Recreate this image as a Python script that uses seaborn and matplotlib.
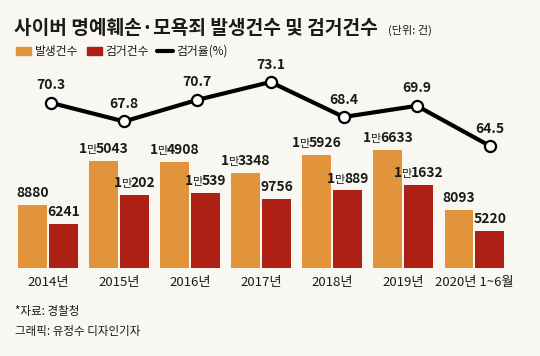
import pandas as pd
import numpy as np
import matplotlib
matplotlib.use("Agg")
import matplotlib.pyplot as plt
import seaborn as sns
from matplotlib.patches import Patch
from matplotlib.lines import Line2D
from matplotlib.offsetbox import TextArea, HPacker, AnnotationBbox

years = ["2014년", "2015년", "2016년", "2017년", "2018년", "2019년", "2020년 1~6월"]
occurred = [8880, 15043, 14908, 13348, 15926, 16633, 8093]
arrested = [6241, 10202, 10539, 9756, 10889, 11632, 5220]
arrest_rate = [70.3, 67.8, 70.7, 73.1, 68.4, 69.9, 64.5]

BG = "#f8f7f2"
ORANGE = "#e1943a"
RED = "#ae1f16"

sns.set_style("white")
plt.rcParams['font.family'] = ['Noto Sans CJK KR', 'DejaVu Sans']

df = pd.DataFrame({"year": years * 2,
                   "count": occurred + arrested,
                   "kind": ["발생건수"] * 7 + ["검거건수"] * 7})

fig = plt.figure(figsize=(5.4, 3.56), dpi=100, facecolor=BG)
W, H = 540, 356

# bars
ax = fig.add_axes([12.5 / W, 1 - 268 / H, 497.5 / W, 208 / H])
ax.set_facecolor("none")
sns.barplot(data=df, x="year", y="count", hue="kind", palette=[ORANGE, RED],
            width=0.87, gap=0.065, saturation=1, edgecolor="none",
            legend=False, ax=ax)
ax.set_xlim(-0.5, 6.5)
ax.set_ylim(0, 29200)
ax.set_xlabel("")
ax.set_ylabel("")
ax.set_yticks([])
ax.tick_params(axis="x", length=0, pad=6, labelsize=9.5, labelcolor="#1a1a1a")
for s in ax.spines.values():
    s.set_visible(False)

big = dict(fontsize=10, fontweight="bold", color="#1a1a1a")
small = dict(fontsize=8, color="#1a1a1a")
for cont, vals in zip(ax.containers, [occurred, arrested]):
    for bar, v in zip(cont, vals):
        if v >= 10000:
            parts = [TextArea(str(v // 10000), textprops=big),
                     TextArea("만", textprops=small),
                     TextArea(str(v % 10000), textprops=big)]
        else:
            parts = [TextArea(str(v), textprops=big)]
        pack = HPacker(children=parts, pad=0, sep=-0.6, align="baseline")
        ab = AnnotationBbox(pack, (bar.get_x() + bar.get_width() / 2, bar.get_height()),
                            xybox=(0, 3.5), boxcoords="offset points",
                            box_alignment=(0.5, 0), frameon=False, pad=0)
        ax.add_artist(ab)

# arrest rate line
lax = fig.add_axes([14.4 / W, 1 - 268 / H, 512.2 / W, 208 / H])
lax.set_facecolor("none")
xs = np.arange(len(arrest_rate))
sns.lineplot(x=xs, y=arrest_rate, ax=lax, color="black", lw=3,
             marker="o", markersize=8, markerfacecolor="white",
             markeredgecolor="black", markeredgewidth=1.6)
lax.set_xlim(-0.5, 6.5)
lax.set_ylim(48.1, 76.06)
lax.axis("off")
for x, r in zip(xs, arrest_rate):
    lax.annotate(f"{r}", (x, r), xytext=(0, 7.5), textcoords="offset points",
                 ha="center", va="bottom", **big)

# title
fig.text(14 / W, 1 - 28 / H, "사이버 명예훼손·모욕죄 발생건수 및 검거건수",
         fontsize=13.8, fontweight="bold", color="#1a1a1a", va="center")
fig.text(388 / W, 1 - 30 / H, "(단위: 건)", fontsize=8, color="#1a1a1a", va="center")

handles = [Patch(color=ORANGE), Patch(color=RED), Line2D([], [], color="black", lw=3)]
fig.legend(handles, ["발생건수", "검거건수", "검거율(%)"], loc="upper left",
           bbox_to_anchor=(16 / W, 1 - 45 / H), ncol=3, frameon=False,
           fontsize=8.5, handlelength=1.3, handletextpad=0.3, columnspacing=0.7,
           borderpad=0, borderaxespad=0, labelcolor="#1a1a1a")

fig.text(15 / W, 1 - 312 / H, "*자료: 경찰청", fontsize=8.3, color="#1a1a1a", va="center")
fig.text(15 / W, 1 - 331 / H, "그래픽: 유정수 디자인기자", fontsize=8.3, color="#1a1a1a", va="center")

fig.savefig("out.png", dpi=100, facecolor=BG)
